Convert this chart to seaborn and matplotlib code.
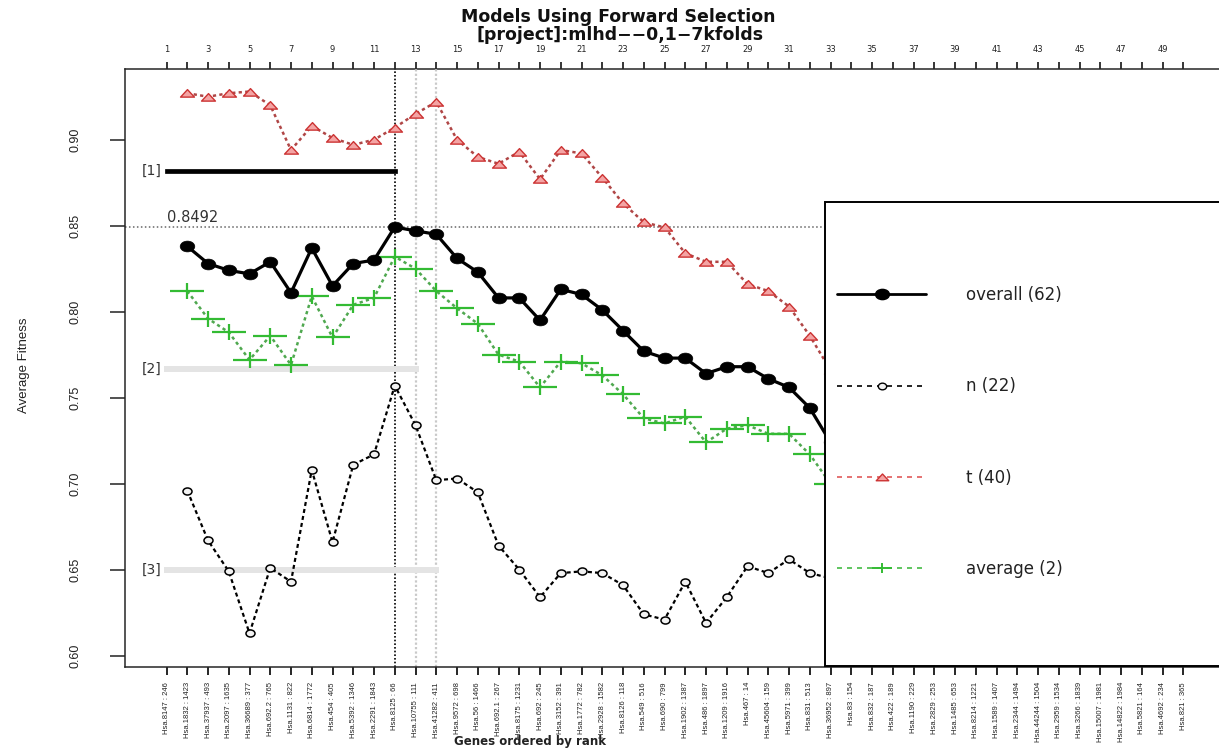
import matplotlib
matplotlib.use("Agg")
import matplotlib.pyplot as plt
from matplotlib.path import Path
from matplotlib.lines import Line2D
from matplotlib.patches import Rectangle
import pandas as pd
import seaborn as sns

# ---- data -------------------------------------------------------------
ranks = list(range(2, 34))
overall = [0.838, 0.828, 0.824, 0.822, 0.829, 0.811, 0.837, 0.815, 0.828, 0.830,
           0.8492, 0.847, 0.845, 0.831, 0.823, 0.808, 0.808, 0.795, 0.813, 0.810,
           0.801, 0.789, 0.777, 0.773, 0.773, 0.764, 0.768, 0.768, 0.761, 0.756,
           0.744, 0.724]
n_fit = [0.696, 0.667, 0.649, 0.613, 0.651, 0.643, 0.708, 0.666, 0.711, 0.717,
         0.757, 0.734, 0.702, 0.703, 0.695, 0.664, 0.650, 0.634, 0.648, 0.649,
         0.648, 0.641, 0.624, 0.621, 0.643, 0.619, 0.634, 0.652, 0.648, 0.656,
         0.648, 0.645]
t_fit = [0.927, 0.925, 0.927, 0.928, 0.920, 0.894, 0.908, 0.901, 0.897, 0.900,
         0.907, 0.915, 0.922, 0.900, 0.890, 0.886, 0.893, 0.877, 0.894, 0.892,
         0.878, 0.863, 0.852, 0.849, 0.834, 0.829, 0.829, 0.816, 0.812, 0.803,
         0.786, 0.766]
avg_fit = [0.812, 0.796, 0.788, 0.772, 0.786, 0.769, 0.809, 0.785, 0.804, 0.808,
           0.832, 0.825, 0.812, 0.802, 0.793, 0.775, 0.771, 0.756, 0.771, 0.770,
           0.763, 0.752, 0.738, 0.735, 0.739, 0.724, 0.732, 0.734, 0.729, 0.729,
           0.717, 0.700]

gene_labels = [
    "Hsa.8147 : 246", "Hsa.1832 : 1423", "Hsa.37937 : 493", "Hsa.2097 : 1635",
    "Hsa.36689 : 377", "Hsa.692.2 : 765", "Hsa.1131 : 822", "Hsa.6814 : 1772",
    "Hsa.454 : 405", "Hsa.5392 : 1346", "Hsa.2291 : 1843", "Hsa.8125 : 66",
    "Hsa.10755 : 111", "Hsa.41282 : 411", "Hsa.9572 : 698", "Hsa.56 : 1466",
    "Hsa.692.1 : 267", "Hsa.8175 : 1231", "Hsa.692 : 245", "Hsa.3152 : 391",
    "Hsa.1772 : 782", "Hsa.2928 : 1582", "Hsa.8126 : 118", "Hsa.549 : 516",
    "Hsa.690 : 799", "Hsa.1902 : 1387", "Hsa.486 : 1897", "Hsa.1209 : 1916",
    "Hsa.467 : 14", "Hsa.45604 : 159", "Hsa.5971 : 399", "Hsa.831 : 513",
    "Hsa.36952 : 897", "Hsa.83 : 154", "Hsa.832 : 187", "Hsa.422 : 189",
    "Hsa.1190 : 229", "Hsa.2829 : 253", "Hsa.1485 : 653", "Hsa.8214 : 1221",
    "Hsa.1589 : 1407", "Hsa.2344 : 1494", "Hsa.44244 : 1504", "Hsa.2959 : 1534",
    "Hsa.3266 : 1839", "Hsa.15007 : 1981", "Hsa.14822 : 1984", "Hsa.5821 : 164",
    "Hsa.4692 : 234", "Hsa.821 : 365",
]
legend_labels = ["overall (62)", "n (22)", "t (40)", "average (2)"]
best_rank = 12
best_fitness = 0.8492
band_labels = ["[1]", "[2]", "[3]"]
band_levels = [0.882, 0.7665, 0.650]
band_ends = [12, 13, 14]
y_ticks = [0.60, 0.65, 0.70, 0.75, 0.80, 0.85, 0.90]

# ---- style ------------------------------------------------------------
sns.set_style("ticks")
plt.rcParams["font.family"] = ["DejaVu Sans"]
plt.rcParams["axes.linewidth"] = 1.1

W, H = 1219, 749
fig = plt.figure(figsize=(W / 100, H / 100), dpi=100)
ax = fig.add_axes([125 / W, 1 - 667 / H, 1 - 125 / W, (667 - 69) / H])
ax.set_xlim(-1.0, 51.72)
ax.set_ylim(0.5934, 0.9411)


def ellipse(aspect):
    circ = Path.unit_circle()
    v = circ.vertices.copy()
    v[:, 1] *= aspect
    return Path(v, circ.codes)


wide_plus = Path([(-1, 0), (1, 0), (0, -0.48), (0, 0.48)],
                 [Path.MOVETO, Path.LINETO, Path.MOVETO, Path.LINETO])
wide_tri = Path([(-1, -0.52), (1, -0.52), (0, 0.56), (-1, -0.52)],
                [Path.MOVETO, Path.LINETO, Path.LINETO, Path.CLOSEPOLY])

df = pd.DataFrame({"rank": ranks, "overall": overall, "n": n_fit,
                   "t": t_fit, "average": avg_fit})

# reference lines and selection bands
ax.axvline(best_rank, color="black", ls=(0, (1, 1.2)), lw=1.2, zorder=1)
for xr in band_ends[1:]:
    ax.axvline(xr, color="#c9c9c9", ls=(0, (1, 1)), lw=1.6, zorder=1)
ax.axhline(best_fitness, color="#666666", ls=(0, (1, 1.6)), lw=1.1, zorder=1)
ax.text(1.0, best_fitness + 0.0012, f"{best_fitness:.4f}", ha="left", va="bottom",
        fontsize=10.5, color="#333333")

for i, (lab, lev, end) in enumerate(zip(band_labels, band_levels, band_ends)):
    col = "black" if i == 0 else "#e4e4e4"
    lw = 3.4 if i == 0 else 4.3
    ax.plot([1, end], [lev, lev], color=col, lw=lw, solid_capstyle="projecting",
            zorder=1.5)
    ax.text(0.78, lev, lab, ha="right", va="center", fontsize=10, color="#333333")

# series
sns.lineplot(data=df, x="rank", y="t", ax=ax, color="#b04646", linewidth=1.8,
             linestyle=(0, (1.3, 1.3)), marker=wide_tri, markersize=10,
             markerfacecolor="#f4a4a4", markeredgecolor="#cc3333",
             markeredgewidth=1.0, legend=False, errorbar=None, zorder=3)
sns.lineplot(data=df, x="rank", y="n", ax=ax, color="black", linewidth=1.6,
             linestyle=(0, (1.8, 1.4)), marker=ellipse(0.78), markersize=6.5,
             markerfacecolor="#f2f2f2", markeredgecolor="black",
             markeredgewidth=1.1, legend=False, errorbar=None, zorder=3)
sns.lineplot(data=df, x="rank", y="average", ax=ax, color="#4fa84f", linewidth=1.8,
             linestyle=(0, (1.3, 1.3)), marker=wide_plus, markersize=24,
             markerfacecolor="none", markeredgecolor="#33bb33",
             markeredgewidth=1.6, legend=False, errorbar=None, zorder=3)
sns.lineplot(data=df, x="rank", y="overall", ax=ax, color="black", linewidth=2.3,
             marker=ellipse(0.74), markersize=10.5, markerfacecolor="black",
             markeredgecolor="black", markeredgewidth=0.5, legend=False,
             errorbar=None, zorder=4)

# axes
ax.set_yticks(y_ticks)
ax.set_yticklabels([f"{v:.2f}" for v in y_ticks], rotation=90, va="center",
                   fontfamily="Liberation Sans", fontsize=9)
ax.tick_params(axis="y", length=11, width=1.1, pad=20, colors="#222222")
positions = list(range(1, len(gene_labels) + 1))
ax.set_xticks(positions)
ax.set_xticklabels(gene_labels, rotation=90, fontfamily="Liberation Sans",
                   fontsize=5.5, color="#222222")
ax.tick_params(axis="x", length=5.8, width=1.4, pad=5)
ax.spines["right"].set_visible(False)
ax.spines["top"].set_visible(False)

ax.set_ylabel("Average Fitness", fontfamily="Liberation Sans", fontsize=9.5,
              color="#222222")
ax.yaxis.set_label_coords(-0.087, 0.505)
ax.set_xlabel("Genes ordered by rank", fontsize=8.5, fontweight="bold", color="#222222")
ax.xaxis.set_label_coords(0.37, -0.114)

top = ax.secondary_xaxis("top")
top.set_xticks(positions)
top.set_xticklabels([str(p) if p % 2 == 1 else "" for p in positions], fontsize=6,
                    color="#222222")
top.tick_params(length=5, width=1.3, pad=6)
top.spines["top"].set_linewidth(1.1)

# titles
fig.text(618 / W, 1 - 17 / H, "Models Using Forward Selection", ha="center",
         va="center", fontsize=12.5, fontweight="bold", color="#111111")
fig.text(620 / W, 1 - 35 / H, "[project]:mlhd\u2212\u22120,1\u22127kfolds", ha="center",
         va="center", fontsize=12.5, fontweight="bold", color="#111111")

# legend panel
box = Rectangle((825 / W, 1 - 666 / H), 0.4, (666 - 202) / H,
                transform=fig.transFigure, facecolor="white", edgecolor="black",
                lw=1.4, zorder=10)
fig.add_artist(box)
handles = [
    Line2D([], [], color="black", lw=2.0, marker=ellipse(0.74), ms=10,
           mfc="black", mec="black"),
    Line2D([], [], color="black", lw=1.2, ls=(0, (3, 3)), marker=ellipse(0.8),
           ms=6, mfc="#f2f2f2", mec="black"),
    Line2D([], [], color="#e05a5a", lw=1.2, ls=(0, (3, 3)), marker=wide_tri, ms=9,
           mfc="#f4a4a4", mec="#cc3333"),
    Line2D([], [], color="#44bb44", lw=1.2, ls=(0, (3, 3)), marker=wide_plus, ms=14,
           mec="#33bb33", mew=1.4),
]
leg = fig.legend(handles, legend_labels, loc="upper left",
                 bbox_to_anchor=(837 / W, 1 - 286 / H), bbox_transform=fig.transFigure,
                 frameon=False, fontsize=12, handlelength=5.34, handletextpad=2.4,
                 labelspacing=4.4, borderpad=0, borderaxespad=0, numpoints=1,
                 labelcolor="#222222")
leg.set_zorder(11)

fig.savefig("out.png", dpi=100)
